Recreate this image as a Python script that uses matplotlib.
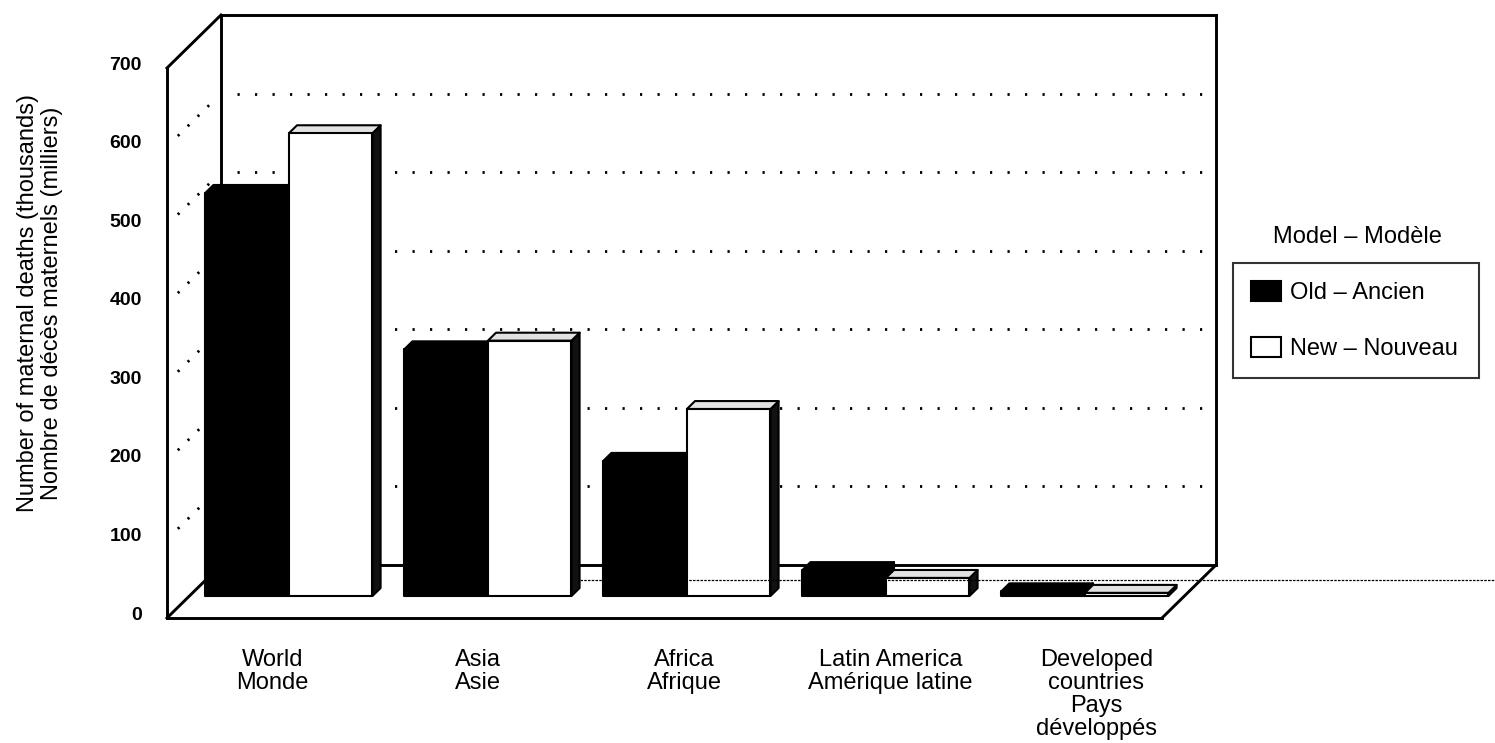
import matplotlib
matplotlib.use("Agg")
import matplotlib.pyplot as plt
from matplotlib.patches import Polygon, Patch
from matplotlib.transforms import ScaledTranslation

plt.rcParams["font.family"] = ["Liberation Sans", "DejaVu Sans"]

# ---- data -------------------------------------------------------------
categories = ["World\nMonde", "Asia\nAsie", "Africa\nAfrique",
              "Latin America\nAmérique latine",
              "Developed\ncountries\nPays\ndéveloppés"]
old_model = [513, 314, 172, 33, 6]     # thousands of maternal deaths
new_model = [589, 325, 238, 23, 4]
series_labels = ["Old – Ancien", "New – Nouveau"]
legend_title = "Model – Modèle"
y_ticks = [0, 100, 200, 300, 400, 500, 600, 700]
y_title = ("Number of maternal deaths (thousands)\n"
           "Nombre de décès maternels (milliers)")

TEXT_SIZE = 17

# ---- figure / axes ------------------------------------------------------
W, H, DPI = 1495, 743, 100
fig = plt.figure(figsize=(W / DPI, H / DPI), dpi=DPI)
fig.patch.set_facecolor("white")

x0_px, x1_px, y0_px, y1_px = 167, 1162, 618, 68
ax = fig.add_axes([x0_px / W, (H - y0_px) / H,
                   (x1_px - x0_px) / W, (y0_px - y1_px) / H])
n = len(categories)
vmax = 700
ax.set_xlim(0, n)
ax.set_ylim(0, vmax)
for s in ax.spines.values():
    s.set_visible(False)
ax.set_facecolor("none")

# oblique depth offset (data units per unit of depth)
px_per_x = (x1_px - x0_px) / n
px_per_v = (y0_px - y1_px) / vmax
DX = 54 / px_per_x
DV = 53 / px_per_v


def P(x, v, d):
    return (x + d * DX, v + d * DV)


def seg(p, q, **kw):
    ax.plot([p[0], q[0]], [p[1], q[1]], clip_on=False, **kw)


frame = dict(color="black", lw=2.1, solid_capstyle="projecting", zorder=1)
# back wall, left wall and floor edges
seg(P(0, 0, 0), P(0, vmax, 0), **frame)
seg(P(0, vmax, 0), P(0, vmax, 1), **frame)
seg(P(0, vmax, 1), P(n, vmax, 1), **frame)
seg(P(n, vmax, 1), P(n, 0, 1), **frame)
seg(P(0, 0, 1), P(n, 0, 1), **frame)
seg(P(0, 0, 1), P(0, vmax, 1), **frame)
seg(P(0, 0, 0), P(n, 0, 0), **frame)
seg(P(0, 0, 0), P(0, 0, 1), **frame)
seg(P(n, 0, 0), P(n, 0, 1), **frame)

# dotted gridlines on back wall and left wall
dots = dict(color="black", lw=2.0, linestyle=(0, (0.8, 5.5)),
            dash_capstyle="butt", zorder=1)
side_dots = dict(color="black", lw=2.0, linestyle=(0, (0.8, 4.2)),
                 dash_capstyle="butt", zorder=1)
for v in y_ticks[1:-1]:
    seg(P(0.08, v, 1), P(n, v, 1), **dots)
    seg(P(0, v, 0.2), P(0, v, 0.85), **side_dots)

# ---- bars -----------------------------------------------------------------
bar_w = 0.42
d_front = 0.415
d_back = d_front + 0.15


def draw_bar(xa, xb, v, face, side, top, z):
    front = [P(xa, 0, d_front), P(xb, 0, d_front), P(xb, v, d_front), P(xa, v, d_front)]
    topf = [P(xa, v, d_front), P(xb, v, d_front), P(xb, v, d_back), P(xa, v, d_back)]
    sidef = [P(xb, 0, d_front), P(xb, 0, d_back), P(xb, v, d_back), P(xb, v, d_front)]
    for poly, fc in ((sidef, side), (topf, top), (front, face)):
        ax.add_patch(Polygon(poly, closed=True, facecolor=fc, edgecolor="black",
                             lw=1.5, joinstyle="round", zorder=z, clip_on=False))


for i in range(n):
    c = i + 0.5
    draw_bar(c - bar_w, c, old_model[i], "black", "black", "black", 3 + 2 * i)
    draw_bar(c, c + bar_w, new_model[i], "white", "#111111", "#e2e2e2", 4 + 2 * i)

# horizontal rule crossing the floor toward the right margin
d_rule = 0.717
x_start = P(1.5 + bar_w, 0, d_back)[0]
x_end = ax.transData.inverted().transform((W, 0))[0]
ax.plot([x_start, x_end], [d_rule * DV, d_rule * DV], color="black", lw=0.9,
        linestyle=(0, (2, 1)), clip_on=False, zorder=20)

# ---- axis text -----------------------------------------------------------
ax.set_xticks([])
ax.set_yticks(y_ticks)
ax.set_yticklabels([str(t) for t in y_ticks], fontweight="bold")
ax.tick_params(axis="y", length=0, pad=18, labelsize=14)
for lab in ax.get_yticklabels():
    lab.set_transform(lab.get_transform() + ScaledTranslation(0, 0.05, fig.dpi_scale_trans))

label_spread = 1.035
for i, name in enumerate(categories):
    ax.text(0.53 + label_spread * i, -39, name, ha="center", va="top",
            fontsize=TEXT_SIZE, linespacing=1.07, multialignment="center")

fig.text(40 / W, 1 - 303 / H, y_title, rotation=90, ha="center", va="center",
         fontsize=TEXT_SIZE, linespacing=1.1, multialignment="center")

# ---- legend --------------------------------------------------------------
handles = [Patch(facecolor="black", edgecolor="black", lw=1.5),
           Patch(facecolor="white", edgecolor="black", lw=1.5)]
leg = fig.legend(handles, series_labels, loc="upper left",
                 bbox_to_anchor=(1233 / W, (H - 374) / H, 246 / W, 111 / H),
                 bbox_transform=fig.transFigure, mode="expand",
                 frameon=True, fancybox=False, edgecolor="black",
                 borderaxespad=0, fontsize=TEXT_SIZE, handlelength=1.3,
                 handleheight=0.95, labelspacing=1.38, borderpad=0.75,
                 handletextpad=0.35)
leg.get_frame().set_linewidth(1.5)
fig.text(1357 / W, 1 - 237 / H, legend_title, ha="center", va="center",
         fontsize=TEXT_SIZE)

fig.savefig("out.png", dpi=DPI, facecolor="white")
